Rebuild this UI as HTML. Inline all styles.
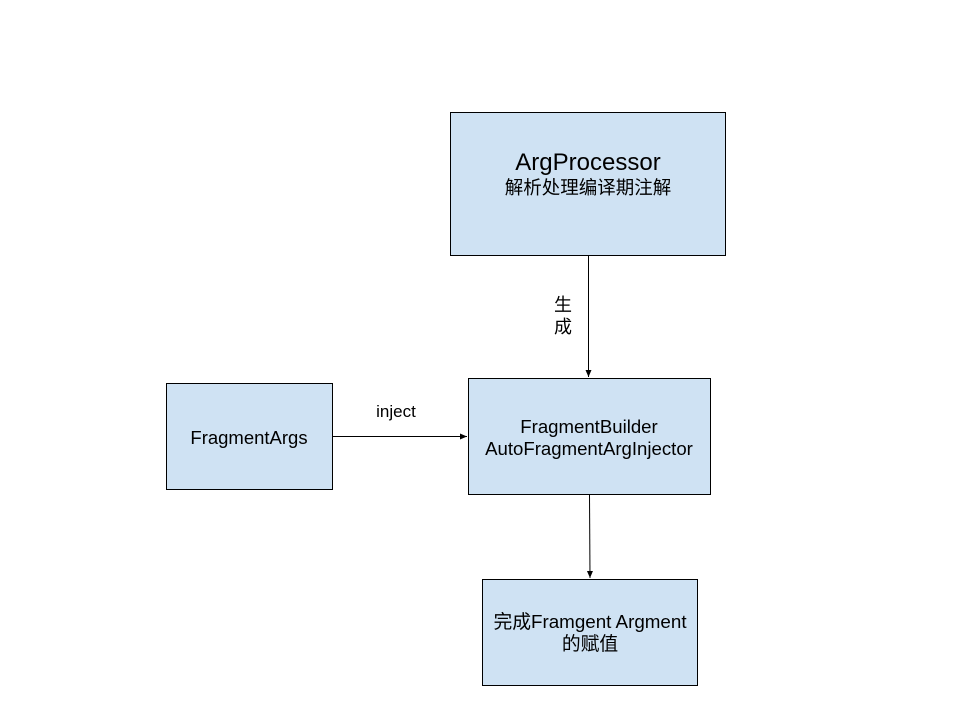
<!DOCTYPE html>
<html><head><meta charset="utf-8"><style>
body{margin:0;background:#fff;width:960px;height:720px;overflow:hidden;}
svg text{font-family:"Liberation Sans","Noto Sans CJK SC",sans-serif;fill:#000;}
</style></head><body>
<svg width="960" height="720" viewBox="0 0 960 720" xmlns="http://www.w3.org/2000/svg">
<defs><marker id="a" markerWidth="8" markerHeight="8" refX="7" refY="4" orient="auto" markerUnits="userSpaceOnUse"><path d="M0,1 L7,4 L0,7 Z" fill="#000"/></marker></defs>
<g fill="#cfe2f3" stroke="#000" stroke-width="1">
<rect x="450.5" y="112.5" width="275" height="143"/>
<rect x="166.5" y="383.5" width="166" height="106"/>
<rect x="468.5" y="378.5" width="242" height="116"/>
<rect x="482.5" y="579.5" width="215" height="106"/>
</g>
<g stroke="#000" stroke-width="1" fill="none">
<line x1="588.5" y1="256" x2="588.5" y2="377" marker-end="url(#a)"/>
<line x1="333" y1="436.5" x2="467" y2="436.5" marker-end="url(#a)"/>
<line x1="589.5" y1="495" x2="590" y2="578" marker-end="url(#a)"/>
</g>
<text x="588" y="170" font-size="24" text-anchor="middle">ArgProcessor</text>
<text x="588" y="194" font-size="18.5" text-anchor="middle">解析处理编译期注解</text>
<text x="563" y="311" font-size="18" text-anchor="middle">生</text>
<text x="563" y="333" font-size="18" text-anchor="middle">成</text>
<text x="396" y="417" font-size="17" text-anchor="middle">inject</text>
<text x="249" y="444" font-size="18.5" text-anchor="middle">FragmentArgs</text>
<text x="589" y="433" font-size="18.6" text-anchor="middle">FragmentBuilder</text>
<text x="589" y="455" font-size="18.6" text-anchor="middle">AutoFragmentArgInjector</text>
<text x="590" y="628" font-size="18.8" text-anchor="middle">完成Framgent Argment</text>
<text x="590" y="650" font-size="18.8" text-anchor="middle">的赋值</text>
</svg>
</body></html>
